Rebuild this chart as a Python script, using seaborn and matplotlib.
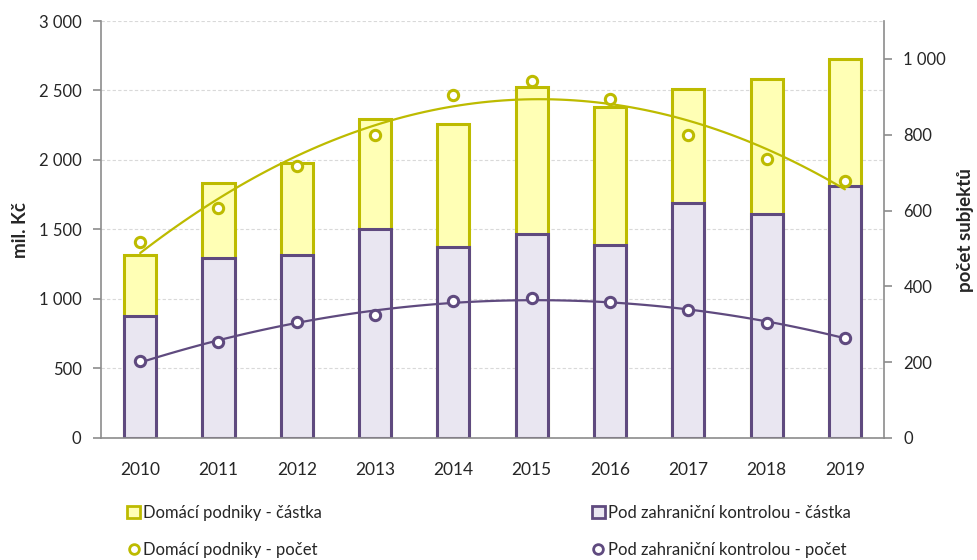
import numpy as np
import pandas as pd
import matplotlib
matplotlib.use("Agg")
import matplotlib.pyplot as plt
import seaborn as sns
from matplotlib.patches import Patch
from matplotlib.lines import Line2D
from matplotlib.ticker import FuncFormatter

years = ["2010", "2011", "2012", "2013", "2014", "2015", "2016", "2017", "2018", "2019"]
# mil. Kč
domestic_amount = [440, 538, 667, 792, 883, 1055, 993, 816, 967, 912]
foreign_amount = [875, 1297, 1313, 1505, 1375, 1469, 1387, 1692, 1613, 1812]
# počet subjektů
domestic_count = [516, 608, 717, 800, 905, 941, 893, 799, 735, 679]
foreign_count = [203, 254, 306, 325, 361, 369, 360, 338, 304, 264]

Y_EDGE, Y_FILL = "#BDBB00", "#FFFFB5"
P_EDGE, P_FILL = "#5F4A7F", "#E9E6F1"
AXIS_GREY = "#8C8C8C"

sns.set_theme(style="white")
plt.rcParams["font.family"] = ["Lato", "DejaVu Sans"]

df = pd.DataFrame({
    "year": years,
    "domestic": domestic_amount,
    "foreign": foreign_amount,
    "dom_n": domestic_count,
    "for_n": foreign_count,
})
df["total"] = df["domestic"] + df["foreign"]
df["pos"] = np.arange(len(df))

fig = plt.figure(figsize=(9.78, 5.6), dpi=100)
ax = fig.add_axes([0.1033, 0.2179, 0.8006, 0.7446])

# stacked bars: full height in the domestic colour, foreign part drawn over it
sns.barplot(data=df, x="year", y="total", color=Y_FILL, edgecolor=Y_EDGE,
            linewidth=2.2, width=0.41, saturation=1, ax=ax)
sns.barplot(data=df, x="year", y="foreign", color=P_FILL, edgecolor=P_EDGE,
            linewidth=2.2, width=0.41, saturation=1, ax=ax)

ax.set_ylim(0, 3000)
ax.set_xlim(-0.5, len(years) - 0.5)
ax.set_yticks(np.arange(0, 3001, 500))
fmt = FuncFormatter(lambda v, p: f"{int(v):,}".replace(",", " "))
ax.yaxis.set_major_formatter(fmt)
ax.yaxis.grid(True, color="#D9D9D9", linestyle=(0, (3, 2)), linewidth=0.8)
ax.set_axisbelow(True)
ax.set_xlabel("")
ax.set_ylabel("")

# x ticks at category boundaries, labels centred on categories
ax.set_xticks(np.arange(-0.5, len(years), 1.0))
ax.set_xticklabels([])
ax.set_xticks(np.arange(len(years)), minor=True)
ax.set_xticklabels(years, minor=True, fontsize=12.5)
ax.tick_params(axis="x", which="major", length=6, width=1.2, color=AXIS_GREY, direction="out")
ax.tick_params(axis="x", which="minor", length=0, pad=17)
ax.tick_params(axis="y", length=6, width=1.2, color=AXIS_GREY, labelsize=12, direction="out", pad=8)

for side in ["top", "right"]:
    ax.spines[side].set_visible(False)
for side in ["left", "bottom"]:
    ax.spines[side].set_color(AXIS_GREY)
    ax.spines[side].set_linewidth(1.2)

ax2 = ax.twinx()

# polynomial trends of the counts
sns.regplot(data=df, x="pos", y="dom_n", order=2, ci=None, scatter=False,
            line_kws=dict(color=Y_EDGE, linewidth=1.6), ax=ax2)
sns.regplot(data=df, x="pos", y="for_n", order=2, ci=None, scatter=False,
            line_kws=dict(color=P_EDGE, linewidth=1.6), ax=ax2)
sns.scatterplot(data=df, x="pos", y="dom_n", marker="o", s=55, color="white",
                edgecolor=Y_EDGE, linewidth=2.2, ax=ax2, zorder=5)
sns.scatterplot(data=df, x="pos", y="for_n", marker="o", s=55, color="white",
                edgecolor=P_EDGE, linewidth=2.2, ax=ax2, zorder=5)

ax2.set_xlim(-0.5, len(years) - 0.5)
ax2.set_ylim(0, 1100)
ax2.set_yticks(np.arange(0, 1001, 200))
ax2.yaxis.set_major_formatter(fmt)
ax2.tick_params(axis="y", length=6, width=1.2, color=AXIS_GREY, labelsize=12, direction="out", pad=8)
for side in ["top", "left", "bottom"]:
    ax2.spines[side].set_visible(False)
ax2.spines["right"].set_color(AXIS_GREY)
ax2.spines["right"].set_linewidth(1.2)
ax2.set_xlabel("")
ax2.set_ylabel("")

# axis titles
fig.text(20 / 978, 1 - 230 / 560, "mil. Kč", rotation=90, ha="center", va="center",
         fontsize=13.5, fontweight="bold")
fig.text(966 / 978, 1 - 230 / 560, "počet subjektů", rotation=90, ha="center", va="center",
         fontsize=13.5, fontweight="bold")

handles = [
    Patch(facecolor=Y_FILL, edgecolor=Y_EDGE, linewidth=2),
    Line2D([], [], marker="o", linestyle="", markersize=7, markerfacecolor="white",
           markeredgecolor=Y_EDGE, markeredgewidth=2),
    Patch(facecolor=P_FILL, edgecolor=P_EDGE, linewidth=2),
    Line2D([], [], marker="o", linestyle="", markersize=7, markerfacecolor="white",
           markeredgecolor=P_EDGE, markeredgewidth=2),
]
labels = [
    "Domácí podniky - částka",
    "Domácí podniky - počet",
    "Pod zahraniční kontrolou - částka",
    "Pod zahraniční kontrolou - počet",
]
fig.legend(handles, labels, ncol=2, loc="lower left", bbox_to_anchor=(0.115, -0.024),
           frameon=False, fontsize=12, handlelength=0.75, handleheight=0.75,
           handletextpad=0.2, columnspacing=16.2, labelspacing=1.3)

fig.savefig("out.png", dpi=100)
